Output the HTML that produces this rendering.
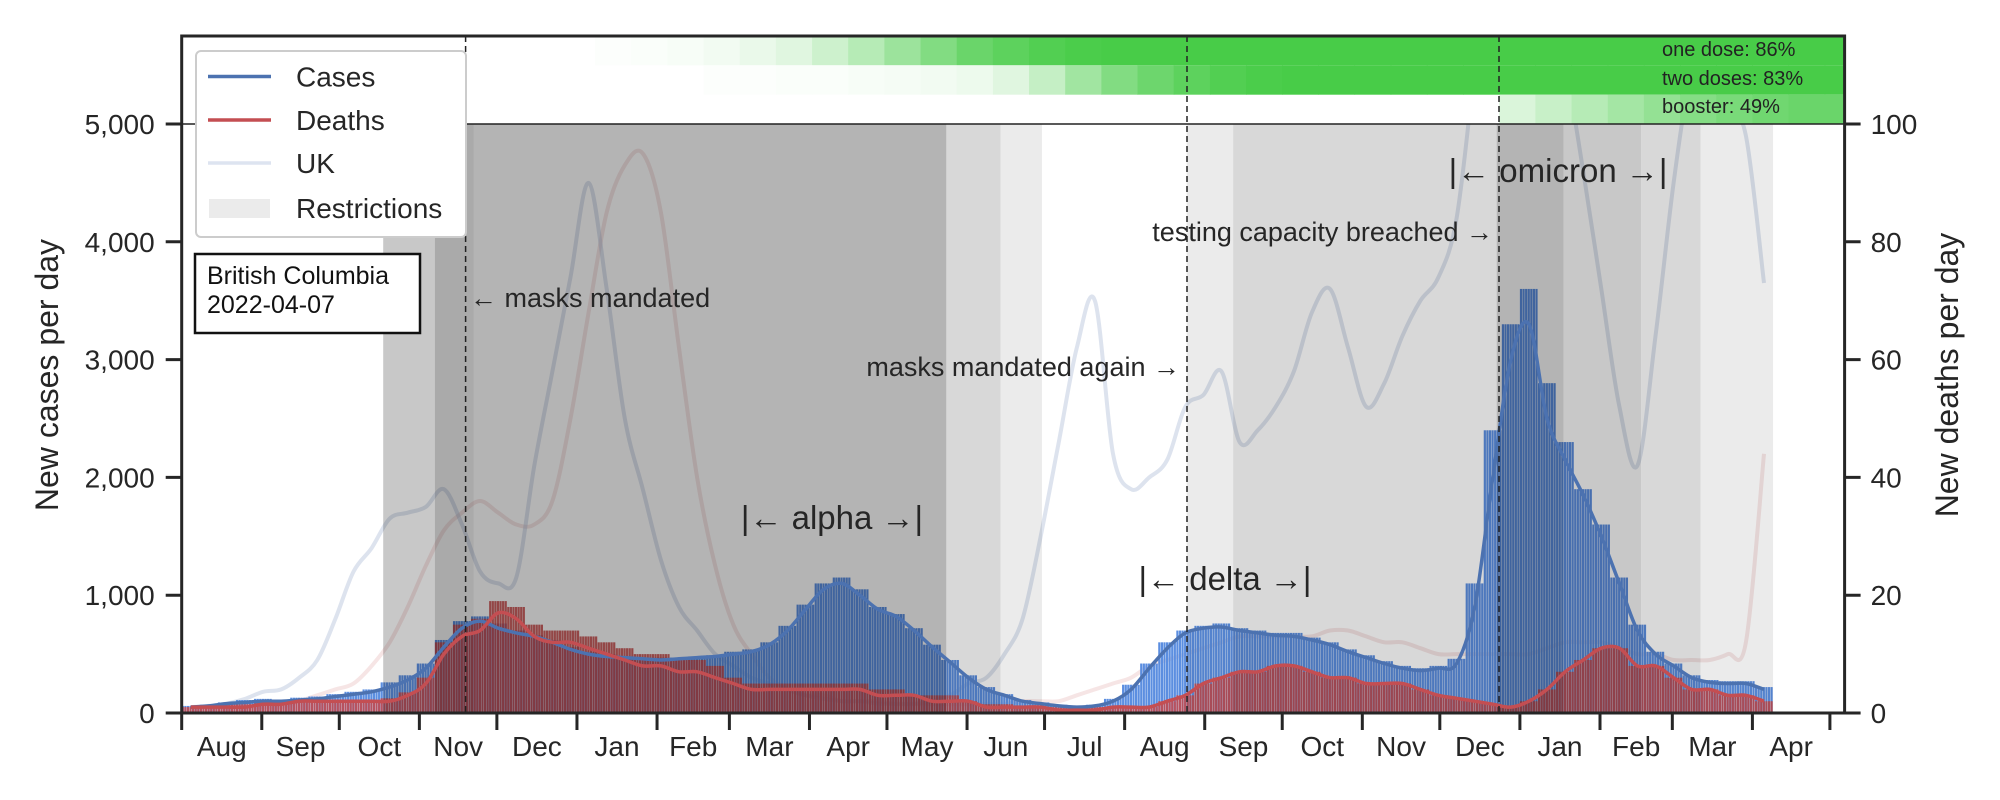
<!DOCTYPE html>
<html><head><meta charset="utf-8"><style>
html,body{margin:0;padding:0;background:#fff;}
svg{display:block;font-family:"Liberation Sans",sans-serif;}
</style></head><body>
<svg id="chart" width="2000" height="800" viewBox="0 0 2000 800" xmlns="http://www.w3.org/2000/svg">
<defs><clipPath id="plotclip"><rect x="181.7" y="124" width="1663" height="589"/></clipPath></defs>
<g id="under"></g>
<g id="shade" style="mix-blend-mode:multiply"></g>
<g id="over"></g>
<g id="vax"></g>
<g id="axes"></g>
<g id="annot"></g>
</svg>
<script>
// ---- data (weekly, week 0 starts 2020-08-01) ----
const casesAvg = [50,60,80,90,100, 100,110,120,140, 160,180,220,280, 380,560,720,780, 720,680,650,600,540, 500,480,470,460, 450,460,470,480, 500,520,580,700,880, 1050,1100,1000,880, 820,700,560,430, 300,200,150,100,80, 60,50,60,100, 200,380,550,680, 720,730,700,680,660, 650,620,580,520, 470,420,380,360, 380,420,900,2000,3000, 3300,2500,2150,1850, 1500,1100,700,500, 400,300,260,250,250, 200];
const casesBars = [60,70,90,110,120, 110,130,140,160, 180,200,260,320, 420,620,780,820, 760,700,660,620,560, 520,500,480,470, 470,470,480,490, 520,540,600,740,920, 1100,1150,1050,900, 840,720,580,450, 320,220,160,110,90, 70,60,70,120, 240,420,600,700, 740,760,720,700,680, 680,640,600,540, 490,440,400,380, 400,460,1100,2400,3300, 3600,2800,2300,1900, 1600,1150,750,520, 420,320,280,270,270, 220];
const deathsAvg = [1,1,1,1,1.5, 1.5,2,2,2, 2,2,2,3, 5,10,13,14, 17,16,13,12,12, 11,10,9,8, 8,7,7,6, 5,4,4,4,4, 4,4,4,3, 3,3,2,2, 2,1,1,1,1, 0.5,0.5,0.5,1, 1,1,2,3, 5,6,7,7,8, 8,7,6,6, 5,5,5,4, 3,2.5,2,1.5,1, 2,4,7,9, 11,11,8,8, 6,4,4,3,3, 2];
const deathBars = [1,1,1.5,1.5,2, 2,2,2.5,2, 2,2,2.5,3.5, 6,12,15,16, 19,18,15,14,14, 13,12,11,10, 10,9,9,8, 6,5,5,5,5, 5,5,5,4, 4,3,3,3, 2,1.5,1.5,1,1, 1,0.5,1,1, 1,1,2,3, 5,6,7,7,8, 8,7,6,6, 5,5,5,4, 3,2.5,2,1.5,1, 2,4,7,9, 11,11,8,8, 6,4,4,3,3, 2];
const ukCases = [50,60,80,120,180, 200,300,450,800, 1200,1400,1650,1700, 1750,1900,1600,1200, 1100,1150,2100,2900,3700, 4500,3600,2500,1900, 1300,900,700,500, 400,300,250,200,150, 120,100,100,80, 80,80,100,150, 250,300,500,800,1500, 2300,3100,3500,2200, 1900,2000,2150,2600, 2700,2900,2300,2400,2600, 2900,3400,3600,3100, 2600,2800,3200,3500, 3700,4200,5500,7000,7500, 7000,6000,5500,4600, 3600,2600,2100,3200, 4500,5500,6000,5200,4900, 3650];
const ukDeaths = [1,1,1,1,1, 1,2,3,4, 5,8,12,18, 25,31,34,36, 34,32,32,36,50, 68,85,93,95, 85,62,40,25, 15,10,6,4,3, 3,2,2,2, 1.5,1.5,1.5,1.5, 1.5,1.5,1.5,2,2, 2,3,4,5, 6,8,9,10, 11,12,13,13,13, 13,13,14,14, 13,12,12,11, 10,10,10,10,10, 10,11,12,12, 12,11,10,10, 9,9,9,10,12, 44];
// vaccination coverage (%), biweekly from day 146
const oneDose = [0,1,2,3,5,8,12,19,28,38,48,57,62,66,69,71,73,75,77,78,79,80,81,82,82,83,83,84,84,84,85,85,85,86,86,86,86];
const twoDoses = [0,0,0,0,1,1,2,2,3,4,5,7,12,22,36,48,56,62,66,69,71,73,74,75,76,77,78,79,80,80,81,81,82,82,83,83,83];
const booster = [0,0,0,0,0,0,0,0,0,0,0,0,0,0,0,0,0,0,0,0,0,0,0,0,0,0,12,18,24,30,35,40,44,47,49,49,49];
const leftTicks = [0,1000,2000,3000,4000,5000];
const leftTickLabels = ["0","1,000","2,000","3,000","4,000","5,000"];
const rightTicks = [0,20,40,60,80,100];
const monthNames = ["Aug","Sep","Oct","Nov","Dec","Jan","Feb","Mar","Apr","May","Jun","Jul","Aug","Sep","Oct","Nov","Dec","Jan","Feb","Mar","Apr"];
const restrictStart = [78,98,98,296,317,389,407,509,535,565,588];
const restrictEnd   = [98,296,113,317,333,407,509,535,565,588,616];
const restrictGrey  = [200,180,170,216,235,235,216,180,200,216,235];

const NS="http://www.w3.org/2000/svg";
const X0=181.7, PX=2.5834, Y0=713, YT=124, XR=1844.6;
const x=d=>X0+d*PX;
const yL=v=>Y0-v*(Y0-YT)/5000;
const yR=v=>Y0-v*(Y0-YT)/100;
function mk(tag,attrs,parent){const e=document.createElementNS(NS,tag);for(const k in attrs)e.setAttribute(k,attrs[k]);parent.appendChild(e);return e;}
const under=document.getElementById('under'),shade=document.getElementById('shade'),over=document.getElementById('over'),vax=document.getElementById('vax'),axes=document.getElementById('axes');

function smoothPath(arr,yf){
  const p=arr.map((v,k)=>[x(7*k+3.5),yf(v)]);
  let s='M'+p[0][0].toFixed(1)+','+p[0][1].toFixed(1);
  for(let i=0;i<p.length-1;i++){
    const p0=p[Math.max(0,i-1)],p1=p[i],p2=p[i+1],p3=p[Math.min(p.length-1,i+2)];
    const c1=[p1[0]+(p2[0]-p0[0])/6,p1[1]+(p2[1]-p0[1])/6];
    const c2=[p2[0]-(p3[0]-p1[0])/6,p2[1]-(p3[1]-p1[1])/6];
    s+=`C${c1[0].toFixed(1)},${c1[1].toFixed(1)} ${c2[0].toFixed(1)},${c2[1].toFixed(1)} ${p2[0].toFixed(1)},${p2[1].toFixed(1)}`;
  }
  return s;
}
let g=mk('g',{'clip-path':'url(#plotclip)'},under);
let e=mk('path',{d:smoothPath(ukDeaths,yR),fill:'none',stroke:'#c44e52','stroke-opacity':0.15,'stroke-width':4},g);


e=mk('path',{d:smoothPath(ukCases,yL),fill:'none',stroke:'#aab8d4','stroke-opacity':0.4,'stroke-width':4},g);


casesBars.forEach((v,k)=>{
  for(let i=0;i<7;i++){
    const r=mk('rect',{x:x(7*k+i),y:yL(v),width:PX*0.85,height:Y0-yL(v),fill:'#5b8ee0'},under);
    
    
  }
});
deathBars.forEach((v,k)=>{
  for(let i=0;i<7;i++){
    const r=mk('rect',{x:x(7*k+i),y:yR(v),width:PX*0.85,height:Y0-yR(v),fill:'#c84848','fill-opacity':0.85},under);
    
    
  }
});
restrictStart.forEach((s,i)=>{
  const c=restrictGrey[i];
  const r=mk('rect',{x:x(s),y:YT,width:x(restrictEnd[i])-x(s),height:Y0-YT,fill:`rgb(${c},${c},${c})`},shade);
  
  
});
e=mk('path',{d:smoothPath(casesAvg,yL),fill:'none',stroke:'#4c72b0','stroke-width':3.5},over);


e=mk('path',{d:smoothPath(deathsAvg,yR),fill:'none',stroke:'#c44e52','stroke-width':3.5},over);



function vaxRow(arr,y0,y1,scale,name){
  arr.forEach((p,j)=>{
    const d0=146+14*j; if(x(d0)>=XR) return;
    const f=Math.min(1,p/scale); if(f<=0) return;
    const w=Math.min(x(d0+14),XR)-x(d0);
    const col=`rgb(${Math.round(255-f*(255-72))},${Math.round(255-f*(255-204))},${Math.round(255-f*(255-72))})`;
    const r=mk('rect',{x:x(d0),y:y0,width:w+0.5,height:y1-y0,fill:col},vax);
    
    
  });
}
vaxRow(oneDose,36,65.3,70,'one-dose-cell');
vaxRow(twoDoses,65.3,94.7,70,'two-doses-cell');
vaxRow(booster,94.7,124,60,'booster-cell');
[['one dose: 86%',56],['two doses: 83%',85],['booster: 49%',113]].forEach(([t,y])=>{
  const tx=mk('text',{x:1662,y:y,'font-size':20,fill:'#222'},vax);tx.textContent=t;
  
  
});

[465.6,1187,1499].forEach(xx=>{
  const l=mk('line',{x1:xx,x2:xx,y1:36,y2:Y0,stroke:'#222','stroke-width':1.5,'stroke-dasharray':'6,4'},axes);
  
  
});
mk('line',{x1:X0,x2:XR,y1:YT,y2:YT,stroke:'#222','stroke-width':1.5},axes);
e=mk('rect',{x:X0,y:36,width:XR-X0,height:Y0-36,fill:'none',stroke:'#262626','stroke-width':3},axes);


leftTicks.forEach((v,i)=>{
  mk('line',{x1:X0-16,x2:X0,y1:yL(v),y2:yL(v),stroke:'#262626','stroke-width':3},axes);
  const t=mk('text',{x:X0-27,y:yL(v)+10,'font-size':28,'text-anchor':'end',fill:'#262626'},axes);
  t.textContent=leftTickLabels[i];
  
  
});
rightTicks.forEach(v=>{
  mk('line',{x1:XR,x2:XR+16,y1:yR(v),y2:yR(v),stroke:'#262626','stroke-width':3},axes);
  const t=mk('text',{x:XR+26,y:yR(v)+10,'font-size':28,fill:'#262626'},axes);
  t.textContent=String(v);
  
  
});
const base=Date.UTC(2020,7,1);
const tickDays=[];
for(let m=0;m<=21;m++){tickDays.push((Date.UTC(2020,7+m,1)-base)/86400000);}
tickDays.forEach((d,i)=>{
  mk('line',{x1:x(d),x2:x(d),y1:Y0,y2:Y0+17,stroke:'#262626','stroke-width':3},axes);
  if(i<monthNames.length){
    const t=mk('text',{x:(x(d)+x(tickDays[i+1]))/2,y:756,'font-size':28,'text-anchor':'middle',fill:'#262626'},axes);
    t.textContent=monthNames[i];
    
    
  }
});
</script>
<svg style="position:absolute;left:0;top:0" width="2000" height="800">
<g font-family="Liberation Sans, sans-serif" fill="#262626">
<text transform="translate(58,375) rotate(-90)" font-size="32" text-anchor="middle">New cases per day</text>
<text transform="translate(1958,375) rotate(-90)" font-size="32" text-anchor="middle">New deaths per day</text>
<text x="470" y="307" font-size="27">← masks mandated</text>
<text x="1180" y="376" font-size="27" text-anchor="end">masks mandated again →</text>
<text x="1493" y="241" font-size="27" text-anchor="end">testing capacity breached →</text>
<text x="832" y="529" font-size="33" text-anchor="middle">|← alpha →|</text>
<text x="1225" y="590" font-size="33" text-anchor="middle">|← delta →|</text>
<text x="1558" y="182" font-size="33" text-anchor="middle">|← omicron →|</text>
</g>
<g font-family="Liberation Sans, sans-serif" font-size="28" fill="#262626">
<rect x="196" y="51" width="270" height="186" rx="5" fill="#fff" stroke="#cccccc" stroke-width="2"/>
<line x1="208" x2="271" y1="76.5" y2="76.5" stroke="#4c72b0" stroke-width="3.5"/>
<text x="296" y="86.5">Cases</text>
<line x1="208" x2="271" y1="120" y2="120" stroke="#c44e52" stroke-width="3.5"/>
<text x="296" y="130">Deaths</text>
<line x1="208" x2="271" y1="163" y2="163" stroke="#dde4f0" stroke-width="3.5"/>
<text x="296" y="173">UK</text>
<rect x="209" y="199" width="61" height="19" fill="#ebebeb"/>
<text x="296" y="218">Restrictions</text>
</g>
<g font-family="Liberation Sans, sans-serif" font-size="25" fill="#111">
<rect x="195" y="254" width="225" height="79" fill="#fff" stroke="#111" stroke-width="2.5"/>
<text x="207" y="284">British Columbia</text>
<text x="207" y="313">2022-04-07</text>
</g>
</svg>
</body></html>
